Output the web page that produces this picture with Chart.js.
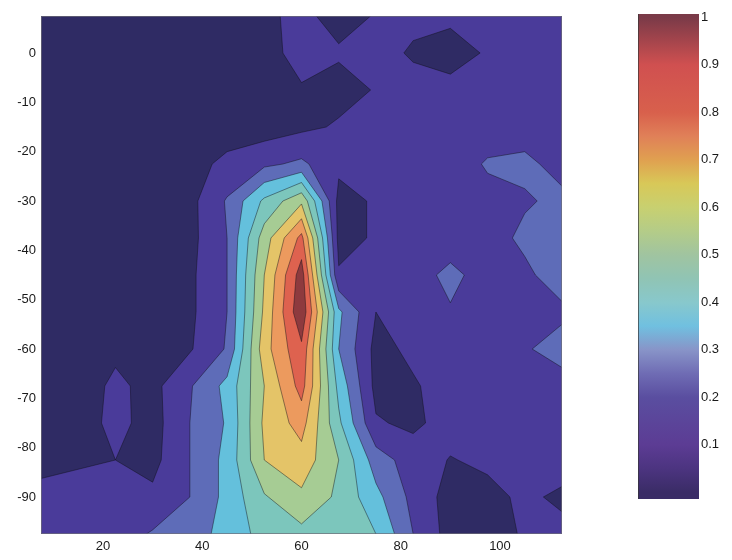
<!DOCTYPE html>
<html>
<head>
<meta charset="utf-8">
<script src="https://cdn.jsdelivr.net/npm/chart.js@4.4.0/dist/chart.umd.min.js"></script>
<style>
  html, body { margin: 0; padding: 0; background: #fff; }
  #wrap { position: relative; width: 732px; height: 560px; }
  #mainChart { position: absolute; left: 0; top: 0; }
  #barChart { position: absolute; left: 600px; top: 0; }
</style>
</head>
<body>
<div id="wrap">
  <canvas id="mainChart" width="600" height="560"></canvas>
  <canvas id="barChart" width="132" height="560"></canvas>
</div>
<script>
// grid positions
const xGrid = [7.5, 15, 22.5, 30, 37.5, 45, 52.5, 60, 67.5, 75, 82.5, 90, 97.5, 105, 112.5];
const yGrid = [7.5, 0, -7.5, -15, -22.5, -30, -37.5, -45, -52.5, -60, -67.5, -75, -82.5, -90, -97.5];

// z values, one row per yGrid entry (top to bottom)
const z = [
  [.05, .05, .05, .05, .06, .06, .085, .12, .07, .105, .12, .12, .14, .14, .14],
  [.05, .05, .05, .05, .05, .05, .08, .12, .11, .13, .09, .06, .11, .14, .14],
  [.05, .05, .05, .05, .05, .05, .07, .095, .07, .105, .13, .13, .14, .14, .14],
  [.05, .05, .05, .05, .05, .06, .05, .08, .11, .14, .14, .14, .15, .16, .15],
  [.05, .05, .05, .06, .07, .12, .18, .22, .12, .13, .14, .15, .21, .22, .17],
  [.05, .05, .05, .05, .07, .21, .42, .58, .07, .11, .14, .14, .17, .19, .22],
  [.05, .05, .05, .05, .07, .20, .55, .83, .07, .11, .14, .14, .16, .22, .25],
  [.05, .05, .05, .05, .08, .20, .60, .95, .11, .13, .15, .23, .15, .18, .25],
  [.05, .05, .05, .05, .08, .20, .62, .98, .32, .10, .14, .19, .18, .16, .18],
  [.05, .05, .08, .05, .09, .21, .66, .88, .30, .07, .12, .14, .14, .19, .24],
  [.05, .05, .12, .07, .19, .33, .60, .84, .37, .07, .09, .14, .14, .14, .16],
  [.06, .05, .13, .06, .20, .31, .62, .74, .42, .11, .08, .14, .14, .14, .15],
  [.08, .09, .10, .07, .20, .33, .60, .66, .50, .25, .15, .095, .12, .14, .15],
  [.12, .13, .13, .12, .20, .33, .49, .58, .48, .33, .17, .06, .07, .12, .08],
  [.13, .14, .15, .21, .26, .33, .44, .47, .42, .40, .20, .06, .06, .11, .13]
];

const levels = [0, 0.1, 0.2, 0.3, 0.4, 0.5, 0.6, 0.7, 0.8, 0.9];
const xTicks = [20, 40, 60, 80, 100];
const yTicks = [0, -10, -20, -30, -40, -50, -60, -70, -80, -90];
const cbTicks = [0.1, 0.2, 0.3, 0.4, 0.5, 0.6, 0.7, 0.8, 0.9, 1];
const cbMin = -0.014;
const cbMax = 1.007;

// colours
const bandColors = ['#2f2b64', '#4a3b9a', '#5e6cb8', '#64c0dc', '#7cc6bc', '#a6cc94',
  '#e4c468', '#ec9a5e', '#de624f', '#8e3a3e'];
const colormapStops = [
  [0.0, '#3a2c66'], [0.05, '#4c3480'], [0.1, '#5c3c94'], [0.2, '#5a4ea0'],
  [0.25, '#6f6cb4'], [0.3, '#8894c8'], [0.35, '#70c0e0'], [0.4, '#88c8cc'],
  [0.45, '#90c4b4'], [0.5, '#a0c4a0'], [0.55, '#b4cc88'], [0.6, '#c8d070'],
  [0.65, '#d8c858'], [0.7, '#e0a050'], [0.75, '#e08058'], [0.8, '#d8604c'],
  [0.9, '#d05050'], [1.0, '#7a3a48']
];

const fontSpec = { family: "'Liberation Sans', Arial, sans-serif", size: 13 };

const contourPlugin = {
  id: 'contour',
  beforeDatasetsDraw(chart) {
    const { ctx, chartArea, scales: { x, y } } = chart;
    const px = xGrid.map(v => x.getPixelForValue(v));
    const py = yGrid.map(v => y.getPixelForValue(v));
    const nx = xGrid.length, ny = yGrid.length;

    ctx.save();
    ctx.beginPath();
    ctx.rect(chartArea.left, chartArea.top, chartArea.width, chartArea.height);
    ctx.clip();

    // filled bands, lowest first
    levels.forEach((t, k) => {
      ctx.beginPath();
      for (let j = 0; j < ny - 1; j++) {
        for (let i = 0; i < nx - 1; i++) {
          const corners = [[i, j], [i + 1, j], [i + 1, j + 1], [i, j + 1]];
          const pts = [];
          for (let c = 0; c < 4; c++) {
            const [ai, aj] = corners[c];
            const [bi, bj] = corners[(c + 1) % 4];
            const za = z[aj][ai], zb = z[bj][bi];
            if (za >= t) pts.push([px[ai], py[aj]]);
            if ((za >= t) !== (zb >= t)) {
              const f = (t - za) / (zb - za);
              pts.push([px[ai] + f * (px[bi] - px[ai]), py[aj] + f * (py[bj] - py[aj])]);
            }
          }
          if (pts.length > 2) {
            ctx.moveTo(pts[0][0], pts[0][1]);
            for (let p = 1; p < pts.length; p++) ctx.lineTo(pts[p][0], pts[p][1]);
            ctx.closePath();
          }
        }
      }
      ctx.fillStyle = bandColors[k];
      ctx.fill();
    });

    // contour lines
    ctx.strokeStyle = 'rgba(15,15,25,0.5)';
    ctx.lineWidth = 0.9;
    levels.slice(1).forEach(t => {
      ctx.beginPath();
      for (let j = 0; j < ny - 1; j++) {
        for (let i = 0; i < nx - 1; i++) {
          const corners = [[i, j], [i + 1, j], [i + 1, j + 1], [i, j + 1]];
          const cross = [];
          for (let c = 0; c < 4; c++) {
            const [ai, aj] = corners[c];
            const [bi, bj] = corners[(c + 1) % 4];
            const za = z[aj][ai], zb = z[bj][bi];
            if ((za >= t) !== (zb >= t)) {
              const f = (t - za) / (zb - za);
              cross.push([px[ai] + f * (px[bi] - px[ai]), py[aj] + f * (py[bj] - py[aj])]);
            }
          }
          let pairs = [];
          if (cross.length === 2) pairs = [[0, 1]];
          if (cross.length === 4) {
            const center = (z[j][i] + z[j][i + 1] + z[j + 1][i] + z[j + 1][i + 1]) / 4;
            pairs = ((z[j][i] >= t) === (center >= t)) ? [[0, 1], [2, 3]] : [[3, 0], [1, 2]];
          }
          pairs.forEach(([a, b]) => {
            ctx.moveTo(cross[a][0], cross[a][1]);
            ctx.lineTo(cross[b][0], cross[b][1]);
          });
        }
      }
      ctx.stroke();
    });
    ctx.restore();
  },
  afterDraw(chart) {
    const { ctx, chartArea } = chart;
    ctx.save();
    ctx.strokeStyle = 'rgba(110,110,120,0.7)';
    ctx.lineWidth = 1;
    ctx.strokeRect(chartArea.left + 0.5, chartArea.top + 0.5, chartArea.width - 1, chartArea.height - 1);
    ctx.restore();
  }
};

new Chart(document.getElementById('mainChart'), {
  type: 'scatter',
  data: { datasets: [{ data: [], pointRadius: 0 }] },
  options: {
    responsive: false,
    devicePixelRatio: 1,
    animation: false,
    layout: { padding: { left: 0, top: 16, right: 38, bottom: 0 } },
    plugins: { legend: { display: false }, tooltip: { enabled: false } },
    scales: {
      x: {
        type: 'linear',
        min: 7.5,
        max: 112.5,
        afterBuildTicks: s => { s.ticks = xTicks.map(v => ({ value: v })); },
        afterFit: s => { s.height = 26; },
        grid: { display: false, drawTicks: false, tickLength: 0 },
        border: { display: false },
        ticks: { padding: 5, color: '#1a1a1a', font: fontSpec, maxRotation: 0 }
      },
      y: {
        type: 'linear',
        min: -97.5,
        max: 7.5,
        afterBuildTicks: s => { s.ticks = yTicks.map(v => ({ value: v })); },
        afterFit: s => { s.width = 41; },
        grid: { display: false, drawTicks: false, tickLength: 0 },
        border: { display: false },
        ticks: { padding: 5, color: '#1a1a1a', font: fontSpec }
      }
    }
  },
  plugins: [contourPlugin]
});

new Chart(document.getElementById('barChart'), {
  type: 'bar',
  data: {
    labels: [''],
    datasets: [{
      data: [[cbMin, cbMax]],
      barPercentage: 1,
      categoryPercentage: 1,
      borderWidth: { left: 1, top: 0, right: 0, bottom: 0 },
      borderColor: '#333',
      borderSkipped: false,
      backgroundColor: c => {
        const chart = c.chart;
        if (!chart.chartArea) return bandColors[1];
        const ys = chart.scales.y;
        const g = chart.ctx.createLinearGradient(0, ys.getPixelForValue(0), 0, ys.getPixelForValue(1));
        colormapStops.forEach(([v, col]) => g.addColorStop(v, col));
        return g;
      }
    }]
  },
  options: {
    responsive: false,
    devicePixelRatio: 1,
    animation: false,
    layout: { padding: { left: 38, top: 14, right: 0, bottom: 61 } },
    plugins: { legend: { display: false }, tooltip: { enabled: false } },
    scales: {
      x: { display: false },
      y: {
        position: 'right',
        min: cbMin,
        max: cbMax,
        afterBuildTicks: s => { s.ticks = cbTicks.map(v => ({ value: v })); },
        afterFit: s => { s.width = 33; },
        grid: { display: false, drawTicks: false, tickLength: 0 },
        border: { display: false },
        ticks: {
          padding: 2,
          color: '#1a1a1a',
          font: fontSpec,
          callback: v => String(+(+v).toFixed(1))
        }
      }
    }
  }
});
</script>
</body>
</html>
